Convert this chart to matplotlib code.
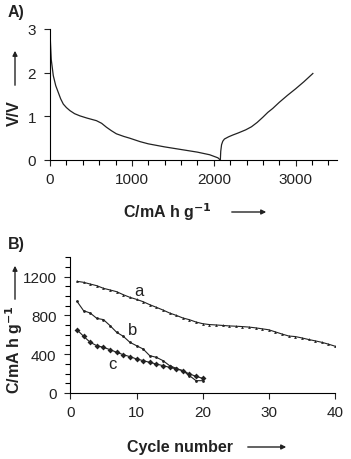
import matplotlib
matplotlib.use("Agg")
import matplotlib.pyplot as plt
from matplotlib.ticker import MultipleLocator

plt.rcParams['font.family'] = ['Liberation Sans', 'DejaVu Sans']

# Panel A: discharge / charge profile
dis_cap = [0, 5, 15, 40, 70, 100, 130, 162, 200, 243, 300, 365, 450, 567, 630,
           689, 750, 810, 900, 972, 1100, 1200, 1400, 1600, 1800, 1950, 2050, 2080]
dis_v = [3.0, 2.7, 2.3, 1.93, 1.7, 1.55, 1.4, 1.28, 1.2, 1.13, 1.06, 1.01, 0.96, 0.9, 0.84,
         0.75, 0.67, 0.60, 0.54, 0.50, 0.42, 0.37, 0.30, 0.24, 0.18, 0.12, 0.05, 0.0]
chg_cap = [2080, 2085, 2095, 2110, 2130, 2180, 2230, 2300, 2390, 2460, 2530, 2600,
           2660, 2720, 2800, 2900, 3000, 3100, 3210]
chg_v = [0.0, 0.2, 0.35, 0.43, 0.48, 0.53, 0.57, 0.62, 0.69, 0.76, 0.86, 0.98,
         1.09, 1.18, 1.32, 1.48, 1.63, 1.79, 1.98]

# Panel B: cycling
cycles_a = list(range(1, 41))
cap_a = [1152, 1142, 1124, 1107, 1080, 1063, 1045, 1014, 987, 966,
         942, 911, 884, 856, 825, 801, 774, 756, 732, 715,
         706, 702, 697, 692, 689, 685, 680, 672, 662, 652,
         630, 608, 588, 582, 568, 552, 538, 523, 504, 483]
cycles_bc = list(range(1, 21))
cap_b = [946, 849, 825, 770, 757, 695, 626, 585, 523, 488,
         454, 385, 368, 334, 282, 254, 230, 179, 127, 127]
cap_c = [653, 585, 523, 488, 471, 447, 420, 395, 375, 351,
         334, 316, 299, 282, 265, 248, 230, 196, 172, 151]
series_labels = ['a', 'b', 'c']

fig = plt.figure(figsize=(3.51, 4.60), dpi=100)
lc = '#222222'
TS = 11    # tick label size
LS = 11.5  # axis label size

# ---- Panel A ----
axA = fig.add_axes([0.1425, 0.650, 0.8165, 0.285])
axA.plot(dis_cap, dis_v, color=lc, lw=0.9)
axA.plot(chg_cap, chg_v, color=lc, lw=0.9)
axA.set_xlim(0, 3500)
axA.set_ylim(0, 3)
axA.xaxis.set_major_locator(MultipleLocator(1000))
axA.xaxis.set_minor_locator(MultipleLocator(200))
axA.yaxis.set_major_locator(MultipleLocator(1))
for s in ['top', 'right']:
    axA.spines[s].set_visible(False)
axA.tick_params(which='major', direction='out', length=4, width=0.8, labelsize=TS, colors=lc)
axA.tick_params(which='minor', direction='out', length=3.5, width=0.8)
axA.tick_params(axis='y', which='both', pad=6)
axA.tick_params(axis='x', which='both', pad=5)

# ---- Panel B ----
axB = fig.add_axes([0.2004, 0.1435, 0.754, 0.295])
axB.plot(cycles_a, cap_a, color=lc, lw=0.8, marker='^', ms=2, mew=0)
axB.plot(cycles_bc, cap_b, color=lc, lw=0.8, marker='o', ms=2, mew=0)
axB.plot(cycles_bc, cap_c, color=lc, lw=0.8, marker='D', ms=3, mew=0)
axB.set_xlim(0, 40)
axB.set_ylim(0, 1400)
axB.xaxis.set_major_locator(MultipleLocator(10))
axB.yaxis.set_major_locator(MultipleLocator(400))
axB.yaxis.set_minor_locator(MultipleLocator(100))
for s in ['top', 'right']:
    axB.spines[s].set_visible(False)
axB.tick_params(which='major', direction='out', length=4, width=0.8, labelsize=TS, colors=lc)
axB.tick_params(which='minor', direction='out', length=3.5, width=0.8)
axB.tick_params(axis='y', which='both', pad=6)
axB.tick_params(axis='x', which='both', pad=5)

axB.text(10.3, 1055, series_labels[0], fontsize=12, ha='center', va='center', color=lc)
axB.text(9.4, 650, series_labels[1], fontsize=12, ha='center', va='center', color=lc)
axB.text(6.35, 306, series_labels[2], fontsize=12, ha='center', va='center', color=lc)

# ---- Labels & arrows ----
W, H = 351, 460
def fx(x): return x / W
def fy(y): return 1 - y / H

fig.text(fx(8), fy(12), 'A)', fontsize=LS, fontweight='bold', ha='left', va='center', color=lc)
fig.text(fx(8), fy(245), 'B)', fontsize=LS, fontweight='bold', ha='left', va='center', color=lc)

fig.text(fx(14), fy(113), 'V/V', fontsize=LS, fontweight='bold', rotation=90,
         ha='center', va='center', color=lc)
fig.text(fx(167), fy(212), r'C/mA h g$^{\mathbf{-1}}$', fontsize=LS, fontweight='bold',
         ha='center', va='center', color=lc)
fig.text(fx(14), fy(350), r'C/mA h g$^{\mathbf{-1}}$', fontsize=LS, fontweight='bold', rotation=90,
         ha='center', va='center', color=lc)
fig.text(fx(180), fy(448), 'Cycle number', fontsize=LS, fontweight='bold',
         ha='center', va='center', color=lc)

arrow = dict(arrowstyle='-|>', color=lc, lw=1.0, mutation_scale=7)
fig.add_artist(matplotlib.patches.FancyArrowPatch((fx(15), fy(89)), (fx(15), fy(49)),
               transform=fig.transFigure, **arrow))
fig.add_artist(matplotlib.patches.FancyArrowPatch((fx(229), fy(213)), (fx(269), fy(213)),
               transform=fig.transFigure, **arrow))
fig.add_artist(matplotlib.patches.FancyArrowPatch((fx(15), fy(303)), (fx(15), fy(264)),
               transform=fig.transFigure, **arrow))
fig.add_artist(matplotlib.patches.FancyArrowPatch((fx(245), fy(448)), (fx(289), fy(448)),
               transform=fig.transFigure, **arrow))

fig.savefig('out.png', dpi=100)
